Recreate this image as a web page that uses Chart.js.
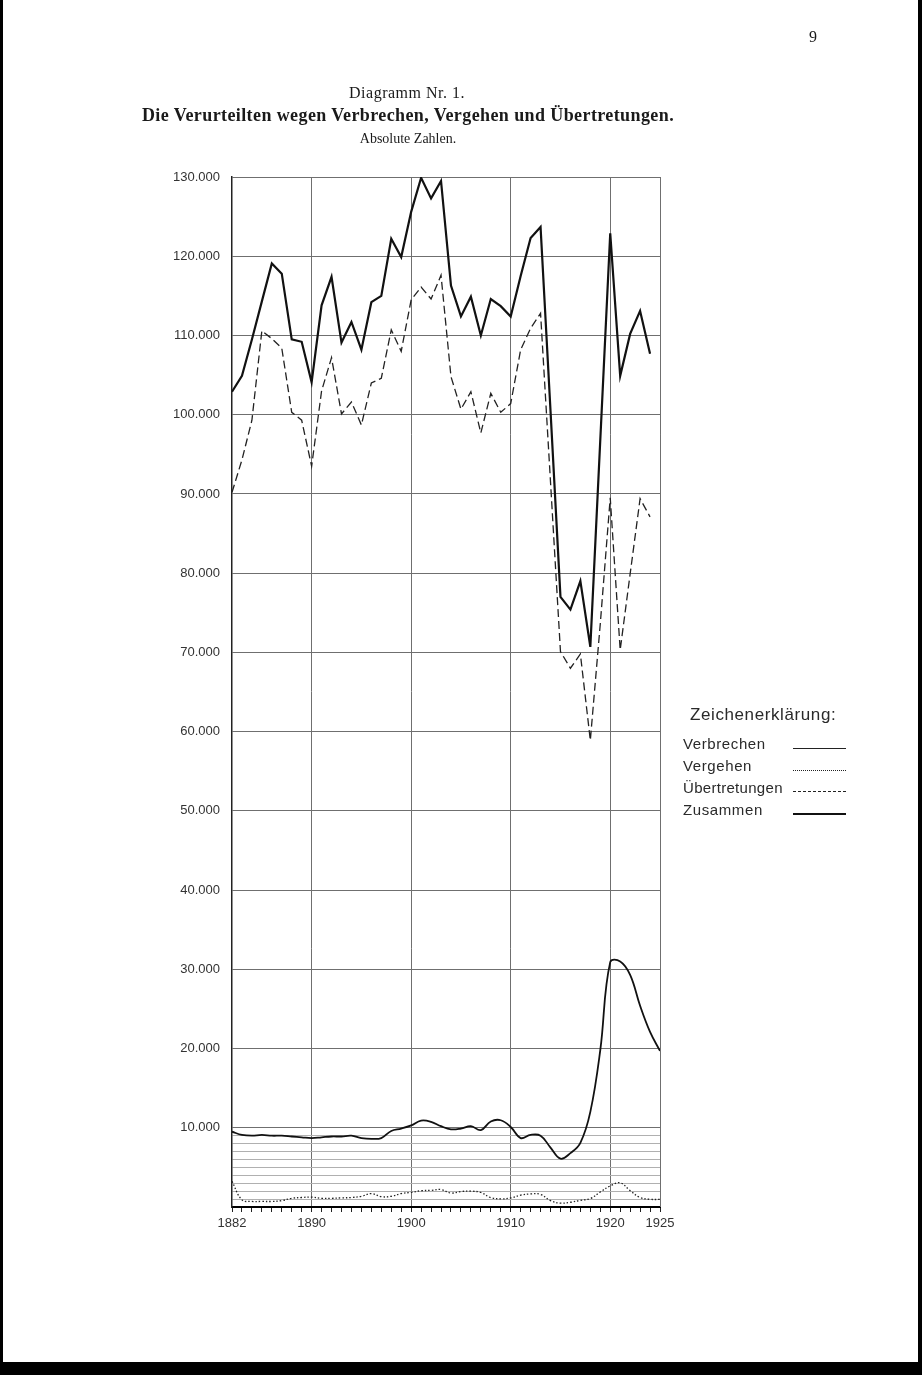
<!DOCTYPE html>
<html lang="de">
<head>
<meta charset="utf-8">
<title>Diagramm Nr. 1</title>
<script src="https://cdn.jsdelivr.net/npm/chart.js@4.4.1/dist/chart.umd.min.js"></script>
<style>
  html, body { margin: 0; padding: 0; background: #fff; }
  body { width: 922px; height: 1375px; position: relative; overflow: hidden; }
  #wrap { position: absolute; left: 0; top: 0; width: 922px; height: 1375px; }
  .t { position: absolute; color: #1a1a1a; white-space: nowrap; }
  .serif { font-family: "Liberation Serif", "DejaVu Serif", serif; }
  .sans { font-family: "Liberation Sans", "DejaVu Sans", sans-serif; color: #2a2a2a; }
  .sample { position: absolute; left: 793px; width: 53px; height: 0; }
  .edge { position: absolute; background: #000; }
</style>
</head>
<body>
<div id="wrap"><canvas id="c" width="922" height="1375"></canvas></div>

<div class="t serif" style="left:809px; top:28px; font-size:16px;">9</div>
<div class="t serif" style="left:0; width:814px; text-align:center; top:84px; font-size:16px; letter-spacing:0.5px;">Diagramm Nr. 1.</div>
<div class="t serif" style="left:0; width:816px; text-align:center; top:105px; font-size:18px; font-weight:bold; letter-spacing:0.4px;">Die Verurteilten wegen Verbrechen, Vergehen und Übertretungen.</div>
<div class="t serif" style="left:0; width:816px; text-align:center; top:131px; font-size:14px;">Absolute Zahlen.</div>

<div class="t sans" style="left:690px; top:705px; font-size:17px; letter-spacing:0.6px;">Zeichenerklärung:</div>
<div class="t sans" style="left:683px; top:735px; font-size:15px; letter-spacing:0.6px;">Verbrechen</div>
<div class="t sans" style="left:683px; top:757px; font-size:15px; letter-spacing:0.6px;">Vergehen</div>
<div class="t sans" style="left:683px; top:779px; font-size:15px; letter-spacing:0.3px;">Übertretungen</div>
<div class="t sans" style="left:683px; top:801px; font-size:15px; letter-spacing:0.6px;">Zusammen</div>
<div class="sample" style="top:748px; border-top:1px solid #222;"></div>
<div class="sample" style="top:770px; border-top:1px dotted #222;"></div>
<div class="sample" style="top:791px; border-top:1px dashed #222;"></div>
<div class="sample" style="top:813px; border-top:2px solid #111;"></div>

<div class="edge" style="left:0; top:0; width:3px; height:1375px;"></div>
<div class="edge" style="right:0; top:0; width:4px; height:1375px;"></div>
<div class="edge" style="left:0; top:1362px; width:922px; height:13px;"></div>

<script>
// ---- data ----
const years = [1882,1883,1884,1885,1886,1887,1888,1889,1890,1891,1892,1893,1894,1895,1896,1897,1898,1899,1900,1901,1902,1903,1904,1905,1906,1907,1908,1909,1910,1911,1912,1913,1914,1915,1916,1917,1918,1919,1920,1921,1922,1923,1924,1925];

const zusammen = [102900,104900,109500,114300,119100,117800,109500,109200,104100,113800,117400,109100,111700,108200,114200,115000,122200,119900,125600,129900,127300,129500,116300,112400,114900,110000,114600,113700,112400,117500,122300,123700,100500,77000,75400,79000,70700,96800,122900,104900,110200,113100,107700,null];

const uebertretungen = [90200,94300,99300,110600,109600,108400,100300,99300,93500,103000,107200,100100,101600,98700,104000,104600,110700,108000,114500,116100,114600,117600,104800,100700,102900,97700,102700,100300,101400,108200,110900,112800,91500,70100,68000,69800,58900,73600,89500,70300,79900,89400,87100,null];

const verbrechen = [9500,9100,9000,9100,9000,9000,8900,8800,8700,8800,8900,8900,9000,8700,8600,8700,9600,9900,10300,10900,10750,10200,9800,9900,10200,9700,10800,10950,10100,8700,9100,9000,7500,6100,6800,8100,12000,19800,30900,31000,29300,25400,22100,19700];

const vergehen = [3250,900,700,700,700,800,1100,1200,1250,1100,1100,1150,1200,1350,1700,1300,1350,1700,1850,2050,2100,2200,1760,1950,2000,1830,1180,1030,1140,1500,1650,1590,810,490,600,840,1070,1900,2650,3050,2060,1200,970,950];

const xLabelYears = [1882,1890,1900,1910,1920,1925];
const yMajorTicks = [10000,20000,30000,40000,50000,60000,70000,80000,90000,100000,110000,120000,130000];
const yMinorTicks = [0,1000,2000,3000,4000,5000,6000,7000,8000,9000];

// ---- helpers ----
const pts = arr => years.map((y, i) => ({ x: y, y: arr[i] }));
const fmt = v => String(v).replace(/\B(?=(\d{3})+(?!\d))/g, '.');

const CHART_LEFT = 232, CHART_RIGHT = 660, CHART_TOP = 177, CHART_BOTTOM = 1207;
const W = 922, H = 1375, X_AXIS_H = 40;

new Chart(document.getElementById('c'), {
  type: 'line',
  data: {
    datasets: [
      { label: 'Zusammen', data: pts(zusammen), borderColor: '#111', borderWidth: 2.2, tension: 0, pointRadius: 0, spanGaps: false },
      { label: 'Übertretungen', data: pts(uebertretungen), borderColor: '#222', borderWidth: 1.3, borderDash: [8, 4], tension: 0, pointRadius: 0 },
      { label: 'Verbrechen', data: pts(verbrechen), borderColor: '#111', borderWidth: 1.8, tension: 0.4, pointRadius: 0 },
      { label: 'Vergehen', data: pts(vergehen), borderColor: '#222', borderWidth: 1.3, borderDash: [1.5, 2], tension: 0.4, pointRadius: 0 }
    ]
  },
  options: {
    responsive: false,
    animation: false,
    devicePixelRatio: 1,
    layout: { padding: { left: 0, top: CHART_TOP, right: W - CHART_RIGHT, bottom: H - CHART_BOTTOM - X_AXIS_H } },
    plugins: { legend: { display: false }, tooltip: { enabled: false }, title: { display: false } },
    scales: {
      x: {
        type: 'linear', min: 1882, max: 1925,
        afterBuildTicks: s => { s.ticks = years.map(v => ({ value: v })); },
        afterFit: s => { s.height = X_AXIS_H; },
        ticks: {
          autoSkip: false, maxRotation: 0, minRotation: 0, padding: 4,
          color: '#333', font: { family: 'Liberation Sans', size: 13 },
          callback: v => xLabelYears.includes(v) ? String(v) : ''
        },
        grid: {
          drawOnChartArea: true, drawTicks: true, tickLength: 5, tickColor: '#222', tickWidth: 1,
          color: ctx => (ctx.tick && xLabelYears.includes(ctx.tick.value) && ctx.tick.value !== 1882) ? '#6f6f6f' : 'rgba(0,0,0,0)',
          lineWidth: 1
        },
        border: { display: true, color: '#000', width: 2 }
      },
      y: {
        type: 'linear', min: 0, max: 130000,
        afterBuildTicks: s => { s.ticks = yMinorTicks.concat(yMajorTicks).map(v => ({ value: v })); },
        afterFit: s => { s.width = CHART_LEFT; },
        ticks: {
          autoSkip: false, padding: 12, color: '#333',
          font: { family: 'Liberation Sans', size: 13 },
          callback: v => (v >= 10000 && v % 10000 === 0) ? fmt(v) : ''
        },
        grid: {
          drawTicks: false,
          color: ctx => {
            const v = ctx.tick ? ctx.tick.value : 0;
            if (v === 0) return 'rgba(0,0,0,0)';
            return v % 10000 === 0 ? '#6f6f6f' : '#b0b0b0';
          },
          lineWidth: 1
        },
        border: { display: true, color: '#222', width: 1.5 }
      }
    }
  },
  plugins: [{
    id: 'rightBorder',
    afterDraw(chart) {
      const { ctx, chartArea } = chart;
      ctx.save();
      ctx.strokeStyle = '#6f6f6f';
      ctx.lineWidth = 1;
      ctx.beginPath();
      ctx.moveTo(chartArea.right + 0.5, chartArea.top);
      ctx.lineTo(chartArea.right + 0.5, chartArea.bottom);
      ctx.stroke();
      ctx.restore();
    }
  }]
});
</script>
</body>
</html>
